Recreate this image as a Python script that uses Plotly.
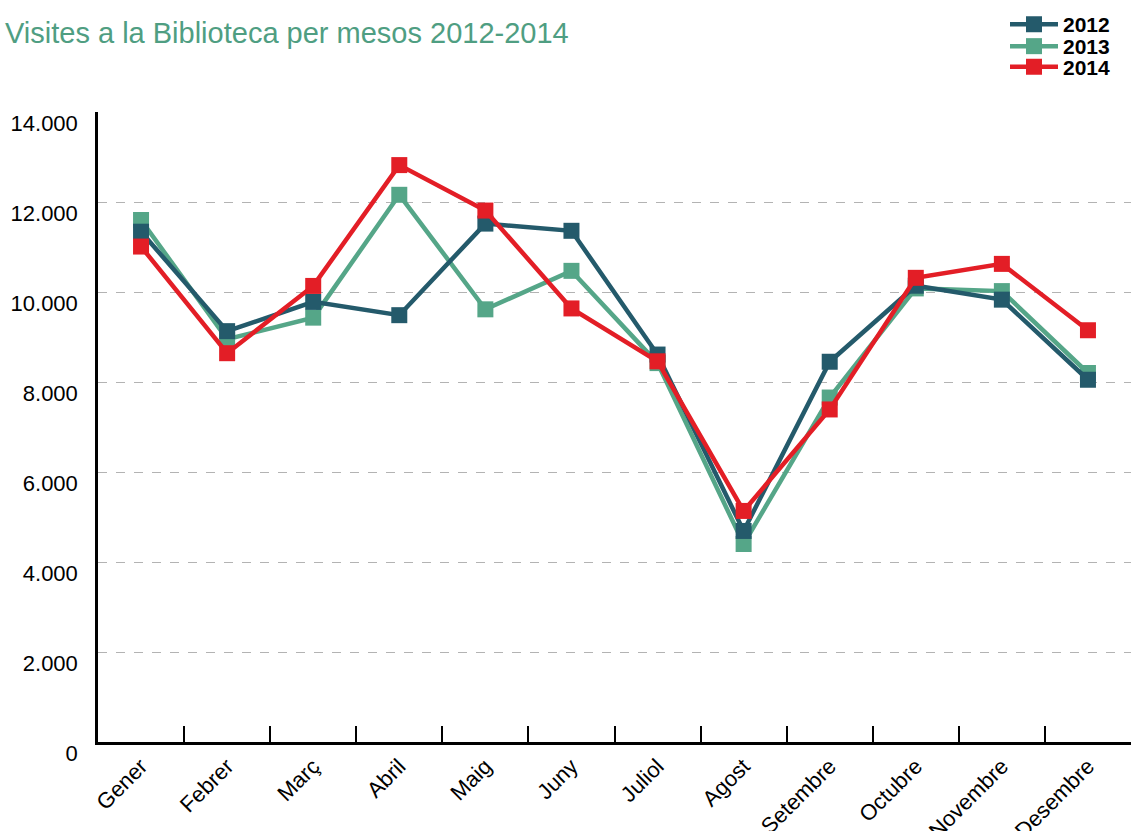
import plotly.graph_objects as go

# Dades llegides del gràfic original
mesos = ['Gener', 'Febrer', 'Març', 'Abril', 'Maig', 'Juny', 'Juliol',
         'Agost', 'Setembre', 'Octubre', 'Novembre', 'Desembre']

visites_2012 = [11340, 9130, 9780, 9485, 11520, 11360, 8610, 4690, 8450, 10140, 9830, 8050]
visites_2013 = [11600, 8950, 9430, 12160, 9615, 10470, 8420, 4400, 7655, 10080, 10020, 8200]
visites_2014 = [11010, 8640, 10135, 12820, 11810, 9635, 8460, 5135, 7390, 10315, 10625, 9150]

y_ticks = [0, 2000, 4000, 6000, 8000, 10000, 12000, 14000]
y_labels = ['0', '2.000', '4.000', '6.000', '8.000', '10.000', '12.000', '14.000']

FONT = 'Liberation Sans'
W, H = 1131, 831


def llegenda(ypx):
    return dict(
        xref='container', yref='container',
        x=1005 / W, xanchor='left',
        y=1 - ypx / H, yanchor='middle',
        itemwidth=48,
        font=dict(family=FONT, size=21, color='black', weight='bold'),
        bgcolor='rgba(0,0,0,0)', borderwidth=0,
    )


fig = go.Figure()

# ordre de dibuix: 2013 a sota, després 2012 i 2014
series = [
    ('2013', visites_2013, '#55a688', 'legend2'),
    ('2012', visites_2012, '#245a6b', 'legend'),
    ('2014', visites_2014, '#e31e26', 'legend3'),
]
for nom, valors, color, leg in series:
    fig.add_trace(go.Scatter(
        x=mesos, y=valors, name=nom, mode='lines+markers',
        line=dict(color=color, width=4.5),
        marker=dict(symbol='square', size=16, color=color),
        legend=leg,
    ))

fig.update_layout(
    width=W, height=H,
    margin=dict(l=98, r=0, t=112, b=89, autoexpand=False),
    paper_bgcolor='white',
    plot_bgcolor='white',
    title=dict(
        text='Visites a la Biblioteca per mesos 2012-2014',
        font=dict(family=FONT, size=29, color='#4f9e82'),
        xref='container', yref='container',
        x=5 / W, xanchor='left',
        y=1 - 33 / H, yanchor='middle',
    ),
    legend=llegenda(24.6),
    legend2=llegenda(46.5),
    legend3=llegenda(67),
    showlegend=True,
)

fig.update_xaxes(
    type='category',
    range=[-0.5, len(mesos) - 0.5],
    tickson='boundaries',
    ticks='inside', ticklen=16, tickwidth=2, tickcolor='black',
    showline=True, linecolor='black', linewidth=2.5,
    showgrid=False,
    tickangle=-45,
    tickfont=dict(family=FONT, size=22, color='black'),
    automargin=False,
)

fig.update_yaxes(
    range=[0, 14000],
    tickmode='array', tickvals=y_ticks, ticktext=y_labels,
    ticks='',
    showline=True, linecolor='black', linewidth=2.5,
    showgrid=True, gridcolor='#b3b3b3', gridwidth=1.3, griddash='dash',
    zeroline=False,
    ticklabelshift=11,
    ticklabelstandoff=13,
    tickfont=dict(family=FONT, size=22, color='black'),
    automargin=False,
)

# sense el marge per defecte del body, perquè el gràfic ocupi tota la finestra
fig.write_html('out.html', config={'displayModeBar': False},
               post_script="document.body.style.margin = '0';")
